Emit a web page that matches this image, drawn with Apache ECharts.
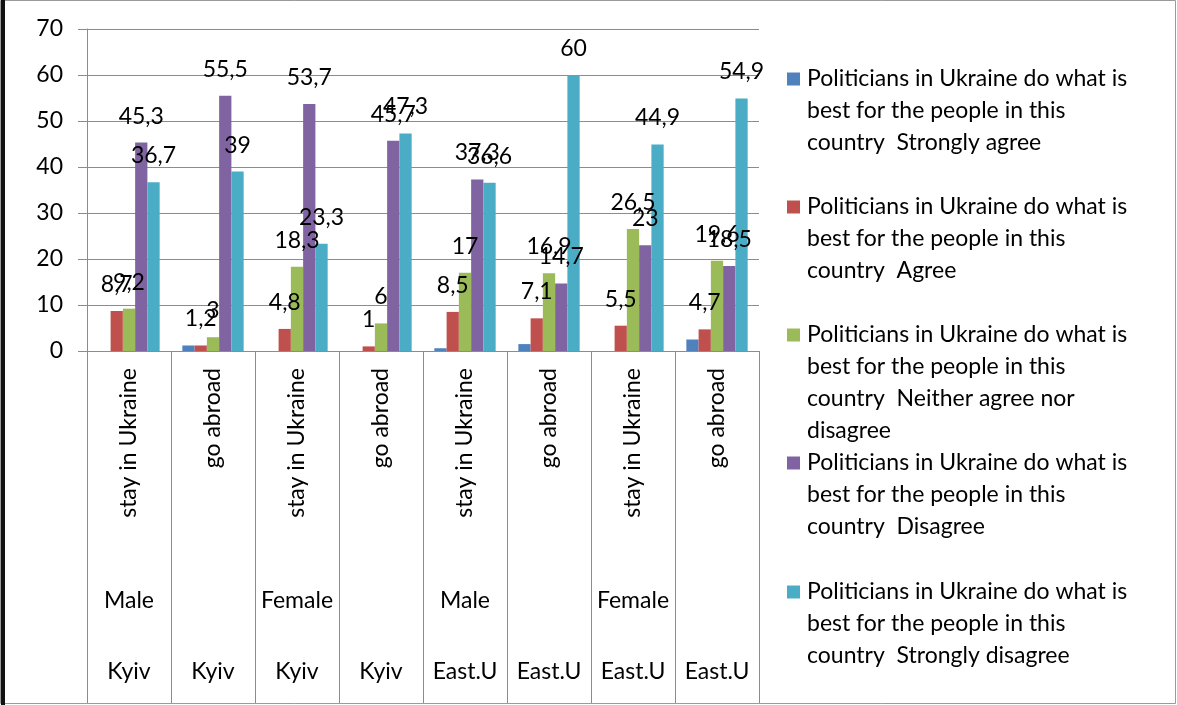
<!DOCTYPE html>
<html>
<head>
<meta charset="utf-8">
<script src="https://cdn.jsdelivr.net/npm/echarts@6/dist/echarts.min.js"></script>
<style>
html,body{margin:0;padding:0;background:#fff;}
#chart{width:1177px;height:705px;}
</style>
</head>
<body>
<div id="chart"></div>
<script>
// ---- data ----
const choiceLabels = ['stay in Ukraine','go abroad','stay in Ukraine','go abroad','stay in Ukraine','go abroad','stay in Ukraine','go abroad'];
const genderLabels = ['Male','','Female','','Male','','Female',''];
const regionLabels = ['Kyiv','Kyiv','Kyiv','Kyiv','East.U','East.U','East.U','East.U'];
const seriesNames = [
  'Politicians in Ukraine do what is best for the people in this country  Strongly agree',
  'Politicians in Ukraine do what is best for the people in this country  Agree',
  'Politicians in Ukraine do what is best for the people in this country  Neither agree nor disagree',
  'Politicians in Ukraine do what is best for the people in this country  Disagree',
  'Politicians in Ukraine do what is best for the people in this country  Strongly disagree'
];
const legendLines = [
  ['Politicians in Ukraine do what is','best for the people in this','country  Strongly agree'],
  ['Politicians in Ukraine do what is','best for the people in this','country  Agree'],
  ['Politicians in Ukraine do what is','best for the people in this','country  Neither agree nor','disagree'],
  ['Politicians in Ukraine do what is','best for the people in this','country  Disagree'],
  ['Politicians in Ukraine do what is','best for the people in this','country  Strongly disagree']
];
const stronglyAgree = [null, 1.2, null, null, 0.6, 1.5, null, 2.5];
const agree = [8.7, 1.2, 4.8, 1, 8.5, 7.1, 5.5, 4.7];
const neither = [9.2, 3, 18.3, 6, 17, 16.9, 26.5, 19.6];
const disagree = [45.3, 55.5, 53.7, 45.7, 37.3, 14.7, 23, 18.5];
const stronglyDisagree = [36.7, 39, 23.3, 47.3, 36.6, 60, 44.9, 54.9];
const yTicks = {min: 0, max: 70, interval: 10};

// ---- styling ----
const colors = ['#4F81BD','#C0504D','#9BBB59','#8064A2','#4BACC6'];
const FONT = 'Lato';
const FS = 23;
const LH = 32;
const gridColor = '#8c8c8c';
const legendFirstLineY = [79, 207, 335, 463, 592];

const values = [stronglyAgree, agree, neither, disagree, stronglyDisagree];

const series = values.map((arr, i) => ({
  name: seriesNames[i],
  type: 'bar',
  xAxisIndex: 0,
  data: arr,
  barGap: '0%',
  barCategoryGap: '27%',
  itemStyle: {color: colors[i]},
  label: {
    show: i !== 0,
    position: 'top',
    distance: 15,
    fontFamily: FONT,
    fontSize: FS,
    color: '#000',
    formatter: p => String(p.value).replace('.', ',')
  },
  emphasis: {disabled: true}
}));

const legends = seriesNames.map((name, i) => {
  const lines = legendLines[i];
  const blanks = lines.length - 1;
  const text = '\n'.repeat(blanks) + lines.join('\n');
  const totalLines = blanks + lines.length;
  return {
    data: [name],
    left: 787,
    top: legendFirstLineY[i] - totalLines * LH / 2,
    padding: 0,
    icon: 'rect',
    itemWidth: 13,
    itemHeight: 13,
    selectedMode: false,
    formatter: () => text,
    textStyle: {fontFamily: FONT, fontSize: FS, lineHeight: LH, color: '#000', padding: [0,0,0,2]}
  };
});

const catAxisBase = {
  type: 'category',
  gridIndex: 0,
  position: 'bottom',
  axisLine: {show: false},
  axisTick: {show: false},
  splitLine: {show: false}
};

const option = {
  animation: false,
  backgroundColor: '#fff',
  grid: {left: 87, top: 29, width: 672, height: 322, containLabel: false},
  legend: legends,
  xAxis: [
    {
      type: 'category',
      data: choiceLabels,
      position: 'bottom',
      boundaryGap: true,
      axisLine: {show: true, lineStyle: {color: gridColor, width: 1}},
      axisTick: {show: true, length: 352, lineStyle: {color: gridColor, width: 1}},
      axisLabel: {interval: 0, rotate: 90, margin: 17, fontFamily: FONT, fontSize: FS, color: '#000'},
      splitLine: {show: false}
    },
    Object.assign({}, catAxisBase, {
      data: genderLabels,
      offset: 238,
      axisLabel: {interval: 0, margin: 0, fontFamily: FONT, fontSize: FS, color: '#000'}
    }),
    Object.assign({}, catAxisBase, {
      data: regionLabels,
      offset: 309,
      axisLabel: {interval: 0, margin: 0, fontFamily: FONT, fontSize: FS, color: '#000'}
    })
  ],
  yAxis: {
    type: 'value',
    min: yTicks.min,
    max: yTicks.max,
    interval: yTicks.interval,
    axisLine: {show: true, lineStyle: {color: gridColor}},
    axisTick: {show: true, inside: false, length: 9, lineStyle: {color: gridColor}},
    axisLabel: {margin: 24, fontFamily: FONT, fontSize: FS, color: '#000'},
    splitLine: {show: true, lineStyle: {color: gridColor, width: 1}}
  },
  graphic: [
    {type: 'rect', shape: {x: 0.5, y: 0.5, width: 1175, height: 703}, style: {fill: null, stroke: '#9a9a9a', lineWidth: 1}, silent: true},
    {type: 'rect', shape: {x: 1, y: 0, width: 4, height: 705}, style: {fill: '#111'}, silent: true}
  ],
  series: series
};

const chart = echarts.init(document.getElementById('chart'), null, {renderer: 'canvas'});
chart.setOption(option);
</script>
</body>
</html>
